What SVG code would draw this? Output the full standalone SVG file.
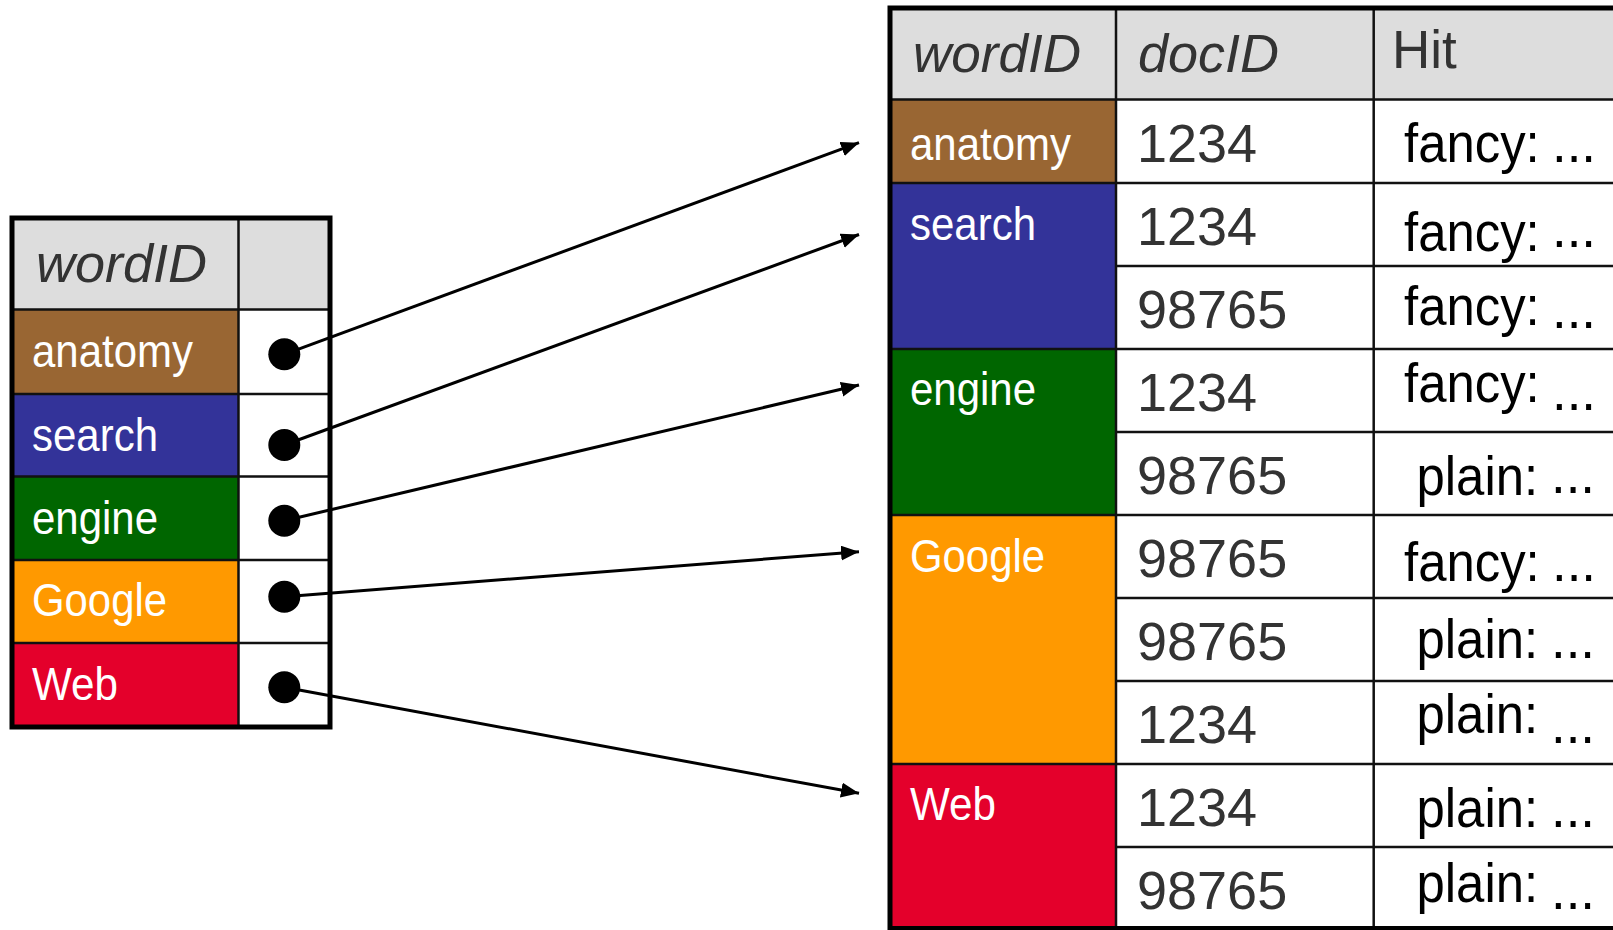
<svg xmlns="http://www.w3.org/2000/svg" width="1613" height="930" viewBox="0 0 1613 930">
  <style>
    .hdr { fill: #dddddd; }
    .cell { fill: #ffffff; }
    .grid { stroke: #111111; stroke-width: 2.5; fill: none; }
    .frame { stroke: #000000; stroke-width: 5; fill: none; }
    .hdr-it { font-family: "Liberation Sans", Arial, sans-serif; font-style: italic; font-size: 54px; fill: #333333; }
    .hdr-up { font-family: "Liberation Sans", Arial, sans-serif; font-size: 53px; fill: #333333; }
    .word { font-family: "Liberation Sans", Arial, sans-serif; font-size: 46px; fill: #ffffff; }
    .doc { font-family: "Liberation Sans", Arial, sans-serif; font-size: 54px; fill: #333333; }
    .hit { font-family: "Liberation Sans", Arial, sans-serif; font-size: 55px; fill: #000000; }
    .ptr { fill: #000000; }
    .link { stroke: #000000; stroke-width: 3; fill: none; marker-end: url(#arrow); }
    .c-anatomy { fill: #996633; }
    .c-search { fill: #333399; }
    .c-engine { fill: #006600; }
    .c-google { fill: #ff9900; }
    .c-web { fill: #e4002b; }
  </style>
  <defs>
    <marker id="arrow" markerUnits="userSpaceOnUse" markerWidth="19" markerHeight="16" refX="18" refY="7.5" orient="auto">
      <path d="M0,0 L18,7.5 L0,15 Z" fill="#000000"/>
    </marker>
  </defs>

  <rect width="1613" height="930" fill="#ffffff"/>

  <!-- Lexicon: word -> pointer into the inverted index -->
  <g id="lexicon">
    <g id="lexicon-header">
      <rect class="hdr" x="12" y="218" width="318" height="91.5"/>
      <text class="hdr-it" x="36" y="282">wordID</text>
    </g>
    <g id="lex-anatomy">
      <rect class="c-anatomy" x="12" y="309.5" width="226.5" height="84.5"/>
      <rect class="cell" x="238.5" y="309.5" width="91.5" height="84.5"/>
      <text class="word" x="32" y="367" textLength="161" lengthAdjust="spacingAndGlyphs">anatomy</text>
      <circle class="ptr" cx="284.3" cy="354.3" r="16"/>
    </g>
    <g id="lex-search">
      <rect class="c-search" x="12" y="394" width="226.5" height="82.5"/>
      <rect class="cell" x="238.5" y="394" width="91.5" height="82.5"/>
      <text class="word" x="32" y="450.5" textLength="126" lengthAdjust="spacingAndGlyphs">search</text>
      <circle class="ptr" cx="284.3" cy="445" r="16"/>
    </g>
    <g id="lex-engine">
      <rect class="c-engine" x="12" y="476.5" width="226.5" height="83.5"/>
      <rect class="cell" x="238.5" y="476.5" width="91.5" height="83.5"/>
      <text class="word" x="32" y="534" textLength="126" lengthAdjust="spacingAndGlyphs">engine</text>
      <circle class="ptr" cx="284.3" cy="520.7" r="16"/>
    </g>
    <g id="lex-google">
      <rect class="c-google" x="12" y="560" width="226.5" height="83"/>
      <rect class="cell" x="238.5" y="560" width="91.5" height="83"/>
      <text class="word" x="32" y="616" textLength="135" lengthAdjust="spacingAndGlyphs">Google</text>
      <circle class="ptr" cx="284.3" cy="596.7" r="16"/>
    </g>
    <g id="lex-web">
      <rect class="c-web" x="12" y="643" width="226.5" height="84"/>
      <rect class="cell" x="238.5" y="643" width="91.5" height="84"/>
      <text class="word" x="32" y="699.5" textLength="86" lengthAdjust="spacingAndGlyphs">Web</text>
      <circle class="ptr" cx="284.3" cy="687.3" r="16"/>
    </g>
    <path class="grid" d="M12,309.5H330 M12,394H330 M12,476.5H330 M12,560H330 M12,643H330 M238.5,218V727"/>
    <rect class="frame" x="12" y="218" width="318" height="509"/>
  </g>

  <!-- Inverted index: wordID / docID / Hit -->
  <g id="inverted-index">
    <g id="index-header">
      <rect class="hdr" x="890" y="8" width="730" height="91.5"/>
      <text class="hdr-it" x="913" y="72" textLength="168" lengthAdjust="spacingAndGlyphs">wordID</text>
      <text class="hdr-it" x="1138" y="72">docID</text>
      <text class="hdr-up" x="1392" y="68">Hit</text>
    </g>
    <g id="inv-anatomy">
      <rect class="c-anatomy" x="890" y="99.5" width="226" height="83.5"/>
      <rect class="cell" x="1116" y="99.5" width="504" height="83.5"/>
      <text class="word" x="910" y="159.5" textLength="161" lengthAdjust="spacingAndGlyphs">anatomy</text>
      <text class="doc" x="1137" y="161.5">1234</text>
      <text class="hit" x="1404" y="161.5" textLength="135.7" lengthAdjust="spacingAndGlyphs">fancy:</text>
      <text class="hit" x="1552" y="161.5" textLength="44" lengthAdjust="spacingAndGlyphs">...</text>
    </g>
    <g id="inv-search">
      <rect class="c-search" x="890" y="183" width="226" height="166"/>
      <rect class="cell" x="1116" y="183" width="504" height="166"/>
      <text class="word" x="910" y="240" textLength="126" lengthAdjust="spacingAndGlyphs">search</text>
      <text class="doc" x="1137" y="244.5">1234</text>
      <text class="hit" x="1404" y="251" textLength="135.7" lengthAdjust="spacingAndGlyphs">fancy:</text>
      <text class="hit" x="1552" y="247" textLength="44" lengthAdjust="spacingAndGlyphs">...</text>
      <text class="doc" x="1137" y="327.5">98765</text>
      <text class="hit" x="1404" y="325" textLength="135.7" lengthAdjust="spacingAndGlyphs">fancy:</text>
      <text class="hit" x="1552" y="328" textLength="44" lengthAdjust="spacingAndGlyphs">...</text>
    </g>
    <g id="inv-engine">
      <rect class="c-engine" x="890" y="349" width="226" height="166"/>
      <rect class="cell" x="1116" y="349" width="504" height="166"/>
      <text class="word" x="910" y="405" textLength="126" lengthAdjust="spacingAndGlyphs">engine</text>
      <text class="doc" x="1137" y="410.5">1234</text>
      <text class="hit" x="1404" y="401.7" textLength="135.7" lengthAdjust="spacingAndGlyphs">fancy:</text>
      <text class="hit" x="1552" y="410" textLength="44" lengthAdjust="spacingAndGlyphs">...</text>
      <text class="doc" x="1137" y="493.5">98765</text>
      <text class="hit" x="1416.5" y="495" textLength="121.6" lengthAdjust="spacingAndGlyphs">plain:</text>
      <text class="hit" x="1551" y="493" textLength="44" lengthAdjust="spacingAndGlyphs">...</text>
    </g>
    <g id="inv-google">
      <rect class="c-google" x="890" y="515" width="226" height="249"/>
      <rect class="cell" x="1116" y="515" width="504" height="249"/>
      <text class="word" x="910" y="572" textLength="135" lengthAdjust="spacingAndGlyphs">Google</text>
      <text class="doc" x="1137" y="576.5">98765</text>
      <text class="hit" x="1404" y="581" textLength="135.7" lengthAdjust="spacingAndGlyphs">fancy:</text>
      <text class="hit" x="1552" y="581" textLength="44" lengthAdjust="spacingAndGlyphs">...</text>
      <text class="doc" x="1137" y="659.5">98765</text>
      <text class="hit" x="1416.5" y="658" textLength="121.6" lengthAdjust="spacingAndGlyphs">plain:</text>
      <text class="hit" x="1551" y="658" textLength="44" lengthAdjust="spacingAndGlyphs">...</text>
      <text class="doc" x="1137" y="742.5">1234</text>
      <text class="hit" x="1416.5" y="733" textLength="121.6" lengthAdjust="spacingAndGlyphs">plain:</text>
      <text class="hit" x="1551" y="743" textLength="44" lengthAdjust="spacingAndGlyphs">...</text>
    </g>
    <g id="inv-web">
      <rect class="c-web" x="890" y="764" width="226" height="166"/>
      <rect class="cell" x="1116" y="764" width="504" height="166"/>
      <text class="word" x="910" y="820" textLength="86" lengthAdjust="spacingAndGlyphs">Web</text>
      <text class="doc" x="1137" y="825.5">1234</text>
      <text class="hit" x="1416.5" y="826.7" textLength="121.6" lengthAdjust="spacingAndGlyphs">plain:</text>
      <text class="hit" x="1551" y="826.7" textLength="44" lengthAdjust="spacingAndGlyphs">...</text>
      <text class="doc" x="1137" y="908.5">98765</text>
      <text class="hit" x="1416.5" y="901.7" textLength="121.6" lengthAdjust="spacingAndGlyphs">plain:</text>
      <text class="hit" x="1551" y="909" textLength="44" lengthAdjust="spacingAndGlyphs">...</text>
    </g>
    <!-- row separators: full width at word boundaries, docID/Hit columns only inside a word group -->
    <path class="grid" d="M890,99.5H1620 M890,183H1620 M890,349H1620 M890,515H1620 M890,764H1620
                          M1116,266H1620 M1116,432H1620 M1116,598H1620 M1116,681H1620 M1116,847H1620
                          M1116,8V930 M1373.7,8V930"/>
    <path class="frame" d="M1620,8H890V928.5H1620"/>
  </g>

  <!-- Pointers from the lexicon into the index -->
  <g id="connectors">
    <line class="link" x1="284.3" y1="354.3" x2="859" y2="142.7"/>
    <line class="link" x1="284.3" y1="445" x2="859" y2="234.5"/>
    <line class="link" x1="284.3" y1="520.7" x2="859" y2="385"/>
    <line class="link" x1="284.3" y1="596.7" x2="859" y2="551.7"/>
    <line class="link" x1="284.3" y1="687.3" x2="859" y2="793.3"/>
  </g>
</svg>
